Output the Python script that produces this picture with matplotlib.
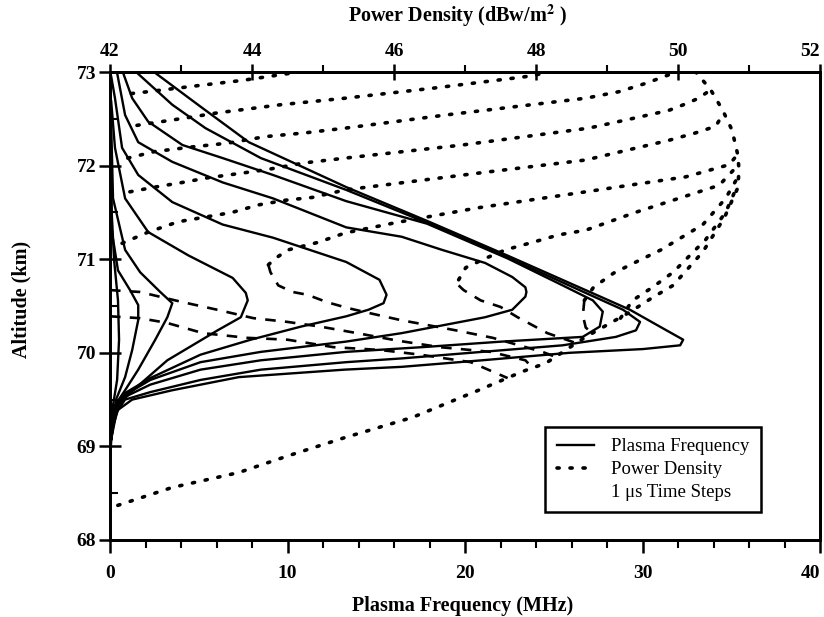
import matplotlib
matplotlib.use("Agg")
import matplotlib.pyplot as plt
from matplotlib.lines import Line2D

plt.rcParams['font.family'] = ['Liberation Serif', 'DejaVu Serif']
plt.rcParams['mathtext.fontset'] = 'stix'

# ---------------- Plasma frequency curves (MHz vs altitude km), 1 us time steps
pf1_f = [0.06, 0.23, 0.45, 0.51, 0.40, 0.17, 0.06]
pf1_h = [71.63, 70.99, 70.56, 70.14, 69.71, 69.44, 69.07]

pf2_f = [0.06, 0.11, 0.45, 1.13, 1.59, 1.59, 1.25, 0.85, 0.34, 0.06]
pf2_h = [72.06, 71.29, 70.88, 70.67, 70.51, 70.35, 70.03, 69.74, 69.50, 69.07]

pf3_f = [0.06, 0.17, 0.85, 1.70, 2.83, 3.51, 3.23, 2.55, 1.59, 0.85, 0.28, 0.06]
pf3_h = [72.49, 71.65, 71.10, 70.86, 70.65, 70.53, 70.38, 70.14, 69.82, 69.60, 69.44, 69.07]

pf4_f = [0.06, 0.28, 0.85, 2.15, 4.42, 6.91, 7.65, 7.76, 7.37, 6.06, 3.23, 1.30, 0.45, 0.06]
pf4_h = [72.70, 72.19, 71.65, 71.29, 71.04, 70.80, 70.64, 70.56, 70.38, 70.24, 69.92, 69.60, 69.44, 69.07]

pf5_f = [0.06, 0.28, 0.68, 1.59, 3.51, 6.35, 9.18, 13.31, 15.18, 15.58, 15.41, 14.56, 13.31,
         10.76, 7.93, 5.10, 2.27, 0.85, 0.28, 0.06]
pf5_h = [72.96, 72.72, 72.19, 71.90, 71.61, 71.37, 71.23, 70.97, 70.78, 70.62, 70.53, 70.46, 70.39,
         70.28, 70.14, 69.98, 69.73, 69.57, 69.41, 69.07]

pf6_f = [0.40, 0.85, 1.59, 3.51, 6.35, 9.18, 13.31, 16.43, 18.70, 21.13, 22.66, 23.40, 23.46, 23.40,
         22.66, 21.13, 16.43, 13.31, 8.50, 5.10, 2.27, 0.85, 0.28, 0.06]
pf6_h = [72.99, 72.54, 72.25, 72.04, 71.82, 71.65, 71.34, 71.24, 71.10, 70.96, 70.81, 70.70, 70.65, 70.60,
         70.46, 70.38, 70.21, 70.12, 70.01, 69.90, 69.71, 69.55, 69.39, 69.07]

pf7_f = [0.74, 1.25, 2.15, 4.08, 6.35, 9.18, 13.31, 17.85, 22.38, 25.50, 27.20, 27.76, 27.59, 26.63,
         22.10, 17.56, 13.31, 8.50, 5.10, 2.27, 0.85, 0.28, 0.06]
pf7_h = [72.99, 72.72, 72.47, 72.22, 72.08, 71.90, 71.62, 71.38, 71.01, 70.72, 70.56, 70.44, 70.28, 70.17,
         70.12, 70.06, 70.01, 69.92, 69.82, 69.66, 69.53, 69.37, 69.07]

pf8_f = [1.53, 3.51, 5.38, 8.50, 13.31, 17.85, 22.38, 26.91, 28.90, 29.86, 29.63, 28.50, 25.50, 20.96,
         16.43, 13.31, 8.50, 5.10, 2.27, 0.85, 0.28, 0.06]
pf8_h = [72.99, 72.65, 72.40, 72.08, 71.74, 71.39, 71.02, 70.63, 70.46, 70.33, 70.24, 70.17, 70.08, 70.01,
         69.94, 69.90, 69.82, 69.71, 69.58, 69.50, 69.34, 69.07]

pf9_f = [2.55, 5.10, 7.82, 13.31, 17.85, 22.38, 26.91, 29.29, 31.16, 32.29, 32.12, 30.03, 25.89, 20.96,
         16.43, 13.20, 7.25, 3.51, 1.25, 0.45, 0.11, 0.0]
pf9_h = [72.99, 72.63, 72.25, 71.77, 71.41, 71.04, 70.66, 70.46, 70.26, 70.14, 70.08, 70.04, 70.00, 69.92,
         69.85, 69.82, 69.74, 69.60, 69.50, 69.39, 69.18, 68.86]

plasma_f = [pf1_f, pf2_f, pf3_f, pf4_f, pf5_f, pf6_f, pf7_f, pf8_f, pf9_f]
plasma_h = [pf1_h, pf2_h, pf3_h, pf4_h, pf5_h, pf6_h, pf7_h, pf8_h, pf9_h]

# ---------------- Power density curves (dBW/m^2 vs altitude km)
pd_base_p = [42.11, 42.87, 43.81, 44.51, 45.29, 46.26, 47.19, 47.81, 48.14, 48.70, 49.31, 49.64, 49.93,
             50.35, 50.65, 50.84, 50.86, 50.84, 50.76, 50.63, 50.46, 50.25]
pd_base_h = [68.37, 68.56, 68.72, 68.90, 69.09, 69.31, 69.60, 69.80, 69.89, 70.17, 70.43, 70.59, 70.72,
             71.08, 71.44, 71.76, 71.95, 72.12, 72.38, 72.59, 72.81, 73.00]

pd_a_p = [42.30, 42.54, 43.30, 43.86, 44.57]
pd_a_h = [72.77, 72.79, 72.86, 72.91, 72.99]

pd_b_p = [42.38, 43.16, 43.48, 44.40, 45.31, 46.58, 47.85, 48.14]
pd_b_h = [72.43, 72.52, 72.56, 72.65, 72.72, 72.83, 72.95, 72.99]

pd_c_p = [42.25, 42.63, 43.16, 43.66, 44.19, 44.75, 45.31, 46.72, 48.70, 49.17, 49.55, 49.87, 49.93]
pd_c_h = [72.08, 72.15, 72.20, 72.24, 72.31, 72.35, 72.40, 72.54, 72.72, 72.79, 72.88, 72.97, 72.99]

pd_d_p = [42.28, 42.63, 43.02, 43.38, 43.86, 44.23, 44.75, 45.31, 46.96, 48.74, 49.40, 49.87, 50.11,
          50.29, 50.46]
pd_d_h = [71.72, 71.77, 71.82, 71.87, 71.92, 71.96, 72.03, 72.08, 72.22, 72.40, 72.51, 72.59, 72.66,
          72.72, 72.81]

pd_e_p = [42.17, 42.54, 42.96, 43.34, 43.72, 44.09, 44.47, 44.85, 45.31, 47.19, 48.70, 49.31, 49.87,
          50.25, 50.53, 50.65]
pd_e_h = [71.17, 71.29, 71.40, 71.45, 71.50, 71.58, 71.63, 71.66, 71.74, 71.92, 72.06, 72.17, 72.27,
          72.35, 72.42, 72.57]

pd_f_p = [44.23, 44.33, 44.51, 44.93, 45.31, 46.02, 47.19, 48.70, 49.40, 50.11, 50.72, 50.84]
pd_f_h = [70.94, 71.01, 71.10, 71.18, 71.28, 71.39, 71.55, 71.72, 71.80, 71.88, 72.01, 72.12]

pd_g_p = [46.91, 47.01, 47.29, 47.57, 47.95, 48.32, 48.70, 49.40, 50.01, 50.58, 50.84]
pd_g_h = [70.78, 70.91, 71.01, 71.10, 71.18, 71.26, 71.31, 71.50, 71.65, 71.79, 72.00]

pd_h_p = [48.68, 48.81, 49.09, 49.38, 49.76, 50.35, 50.67, 50.86]
pd_h_h = [70.56, 70.70, 70.85, 70.96, 71.10, 71.37, 71.65, 71.90]

pd_i_p = [49.19, 49.36, 49.64, 49.93, 50.39, 50.67, 50.81]
pd_i_h = [70.37, 70.56, 70.70, 70.86, 71.21, 71.50, 71.74]

pl_d_p = [42.00, 42.42, 42.80, 43.31, 43.93, 44.50, 45.15, 45.81, 46.37, 47.08, 47.60]
pl_d_h = [70.39, 70.37, 70.32, 70.21, 70.16, 70.14, 70.06, 70.03, 69.98, 69.90, 69.73]

pl_e_p = [42.00, 42.42, 43.03, 43.51, 44.02, 44.50, 44.96, 45.48, 46.05, 46.65, 47.36, 47.85, 47.95]
pl_e_h = [70.67, 70.65, 70.54, 70.46, 70.37, 70.33, 70.28, 70.21, 70.13, 70.06, 70.01, 69.92, 69.84]

pl_f_p = [44.23, 44.26, 44.37, 44.57, 44.78, 45.06, 45.34, 45.62, 46.09, 46.87, 47.39, 48.09, 48.28]
pl_f_h = [70.94, 70.86, 70.72, 70.65, 70.62, 70.54, 70.48, 70.43, 70.35, 70.24, 70.16, 70.01, 69.955]

pl_g_p = [46.91, 46.98, 47.22, 47.50, 47.74, 48.16, 48.56]
pl_g_h = [70.72, 70.67, 70.56, 70.49, 70.38, 70.21, 70.105]

pl_h_p = [48.68, 48.66, 48.70, 48.79]
pl_h_h = [70.56, 70.40, 70.27, 70.21]

dotted_p = [pd_base_p, pd_a_p, pd_b_p, pd_c_p, pd_d_p, pd_e_p, pd_f_p, pd_g_p, pd_h_p, pd_i_p]
dotted_h = [pd_base_h, pd_a_h, pd_b_h, pd_c_h, pd_d_h, pd_e_h, pd_f_h, pd_g_h, pd_h_h, pd_i_h]
dashed_p = [pl_d_p, pl_e_p, pl_f_p, pl_g_p, pl_h_p]
dashed_h = [pl_d_h, pl_e_h, pl_f_h, pl_g_h, pl_h_h]

freq_ticks = [0, 10, 20, 30, 40]
power_ticks = [42, 44, 46, 48, 50, 52]
alt_ticks = [68, 69, 70, 71, 72, 73]

# ---------------- figure
fig = plt.figure(figsize=(8.24, 6.17), dpi=100)
ax = fig.add_axes([0.1335, 0.1248, 0.8617, 0.7585])
ax.set_xlim(0, 40)
ax.set_ylim(68, 73)
ax2 = ax.twiny()
ax2.set_xlim(42, 52)

DOT = (0, (0.6, 3.0))
for f, h in zip(plasma_f, plasma_h):
    ax.plot(f, h, color='black', lw=1.7, solid_capstyle='round', solid_joinstyle='round')

for p, h in zip(dotted_p, dotted_h):
    ax2.plot(p, h, color='black', lw=2.6, linestyle=DOT, dash_capstyle='round')
for p, h in zip(dashed_p, dashed_h):
    ax2.plot(p, h, color='black', lw=1.9, linestyle=(0, (4, 3.5)))

for a in (ax, ax2):
    for s in a.spines.values():
        s.set_linewidth(2.0)

TICK_FS = 14
ax.set_xticks(freq_ticks)
ax.set_xticks(list(range(0, 41, 2)), minor=True)
ax.set_yticks(alt_ticks)
ax.set_yticks([68.5 + i for i in range(5)], minor=True)
ax.tick_params(axis='x', which='major', direction='out', length=9, width=1.8, pad=9, labelsize=TICK_FS)
ax.tick_params(axis='x', which='minor', direction='out', length=6, width=1.5)
ax.tick_params(axis='y', which='major', direction='inout', length=16, width=1.8, pad=2, labelsize=TICK_FS)
ax.tick_params(axis='y', which='minor', direction='in', length=6, width=1.5)

ax2.set_xticks(power_ticks)
ax2.set_xticks(list(range(42, 53)), minor=True)
ax2.tick_params(axis='x', which='major', direction='inout', length=12, width=1.8, pad=3, labelsize=TICK_FS)
ax2.tick_params(axis='x', which='minor', direction='out', length=5, width=1.5)

fig.canvas.draw()
for lab in ax.get_xticklabels() + ax.get_yticklabels() + ax2.get_xticklabels():
    lab.set_fontweight('bold')
ax.get_xticklabels()[-1].set_horizontalalignment('right')
ax2.get_xticklabels()[-1].set_horizontalalignment('right')

ax.set_xlabel('Plasma Frequency (MHz)', fontsize=14.5, fontweight='bold')
ax.xaxis.set_label_coords(0.497, -0.12)
ax.set_ylabel('Altitude (km)', fontsize=14.5, fontweight='bold')
ax.yaxis.set_label_coords(-0.11, 0.515)
ax2.set_xlabel('Power Density (dBw/m$^{\\mathbf{2}}$ )', fontsize=14.5, fontweight='bold')
ax2.xaxis.set_label_coords(0.49, 1.107)

handles = [Line2D([], [], color='black', lw=1.7),
           Line2D([], [], color='black', lw=2.6, linestyle=DOT, dash_capstyle='round'),
           Line2D([], [], color='none')]
labels = ['Plasma Frequency', 'Power Density', '1 \u03bcs Time Steps']
leg = ax2.legend(handles, labels, loc='upper left', bbox_to_anchor=(0.613, 0.2415),
                 frameon=True, fancybox=False, edgecolor='black',
                 prop={'family': 'Liberation Serif', 'size': 13.5},
                 handlelength=2.0, handletextpad=0.9, labelspacing=0.3, borderpad=0.6,
                 borderaxespad=0.0)
leg.get_frame().set_linewidth(1.8)
leg.get_frame().set_alpha(1.0)

fig.savefig('out.png', dpi=100)
